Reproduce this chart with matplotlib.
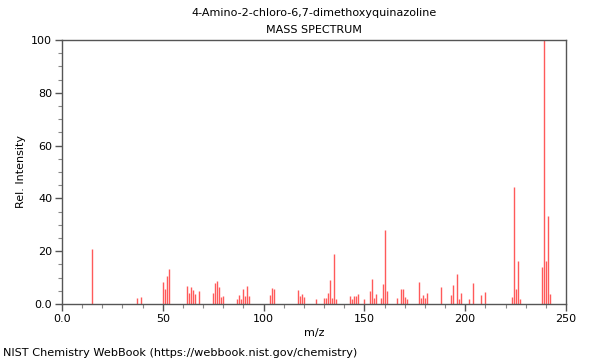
import numpy as np
import matplotlib.pyplot as plt
from matplotlib.ticker import MultipleLocator, FixedLocator

# peak list (m/z, relative intensity)
mz = [15, 37, 39, 50, 51, 52, 53, 62, 63, 64, 65, 66, 68,
      75, 76, 77, 78, 79, 80, 87, 88, 89, 90, 91, 92, 93,
      103, 104, 105, 117, 118, 119, 120, 126, 130, 131, 132, 133, 134, 135, 136,
      143, 144, 145, 146, 147, 150, 153, 154, 155, 156, 158, 159, 160, 161,
      166, 168, 169, 170, 171, 177, 178, 179, 180, 181, 188,
      193, 194, 196, 197, 198, 202, 204, 208, 210,
      223, 224, 225, 226, 227, 238, 239, 240, 241, 242]
intensity = [20.8, 2.3, 2.5, 8.2, 5.7, 10.6, 13.3, 6.8, 4.3, 6.4, 5.2, 3.8, 4.9,
             4.2, 7.8, 8.6, 6.6, 2.7, 3.2, 1.9, 3.4, 2.0, 5.7, 3.2, 6.7, 2.9,
             3.5, 6.2, 5.6, 5.2, 3.0, 3.8, 2.8, 2.0, 2.4, 2.4, 4.3, 9.0, 2.4, 18.8, 2.0,
             2.9, 2.0, 2.9, 3.2, 3.7, 1.8, 5.1, 9.3, 2.4, 3.8, 2.4, 7.4, 28.0, 5.1,
             2.4, 5.7, 5.7, 2.7, 1.9, 8.2, 2.4, 3.4, 2.4, 4.2, 6.3,
             3.4, 7.1, 11.5, 2.0, 4.2, 1.9, 8.0, 3.5, 4.5,
             2.8, 44.3, 5.8, 16.2, 2.0, 14.0, 100.0, 16.4, 33.3, 3.8]

title = "4-Amino-2-chloro-6,7-dimethoxyquinazoline"
x_ticks = [0, 50, 100, 150, 200, 250]
x_ticklabels = ["0.0", "50", "100", "150", "200", "250"]
y_ticks = [0, 20, 40, 60, 80, 100]
y_ticklabels = ["0.0", "20", "40", "60", "80", "100"]

plt.rcParams['font.family'] = 'DejaVu Sans'
fig = plt.figure(figsize=(6, 3.6), dpi=100)
ax = fig.add_axes([0.1033, 0.1556, 0.84, 0.7333])

ax.vlines(mz, 0, intensity, color='#ff5a5a', linewidth=1.0)

ax.set_xlim(0, 250)
ax.set_ylim(0, 100)
ax.xaxis.set_major_locator(FixedLocator(x_ticks))
ax.set_xticklabels(x_ticklabels)
ax.xaxis.set_minor_locator(MultipleLocator(10))
ax.yaxis.set_major_locator(FixedLocator(y_ticks))
ax.set_yticklabels(y_ticklabels)
ax.yaxis.set_minor_locator(MultipleLocator(5))

for s in ax.spines.values():
    s.set_color('#555555')
    s.set_linewidth(1.0)
ax.tick_params(which='major', length=5, width=1, color='#555555', labelsize=8, pad=2)
ax.tick_params(which='minor', length=3, width=0.8, color='#888888')

ax.set_xlabel("m/z", fontsize=8, labelpad=3)
ax.set_ylabel("Rel. Intensity", fontsize=8, labelpad=4)

# titles sit centred over the plot area, not the figure
cx = 314 / 600
fig.text(cx, 1 - 13 / 360, title, ha='center', va='center', fontsize=8)
fig.text(cx, 1 - 30 / 360, "MASS SPECTRUM", ha='center', va='center', fontsize=8)
fig.text(3 / 600, 1 - 353 / 360, "NIST Chemistry WebBook (https://webbook.nist.gov/chemistry)",
         ha='left', va='center', fontsize=8.15)

fig.savefig("out.png", dpi=100)
